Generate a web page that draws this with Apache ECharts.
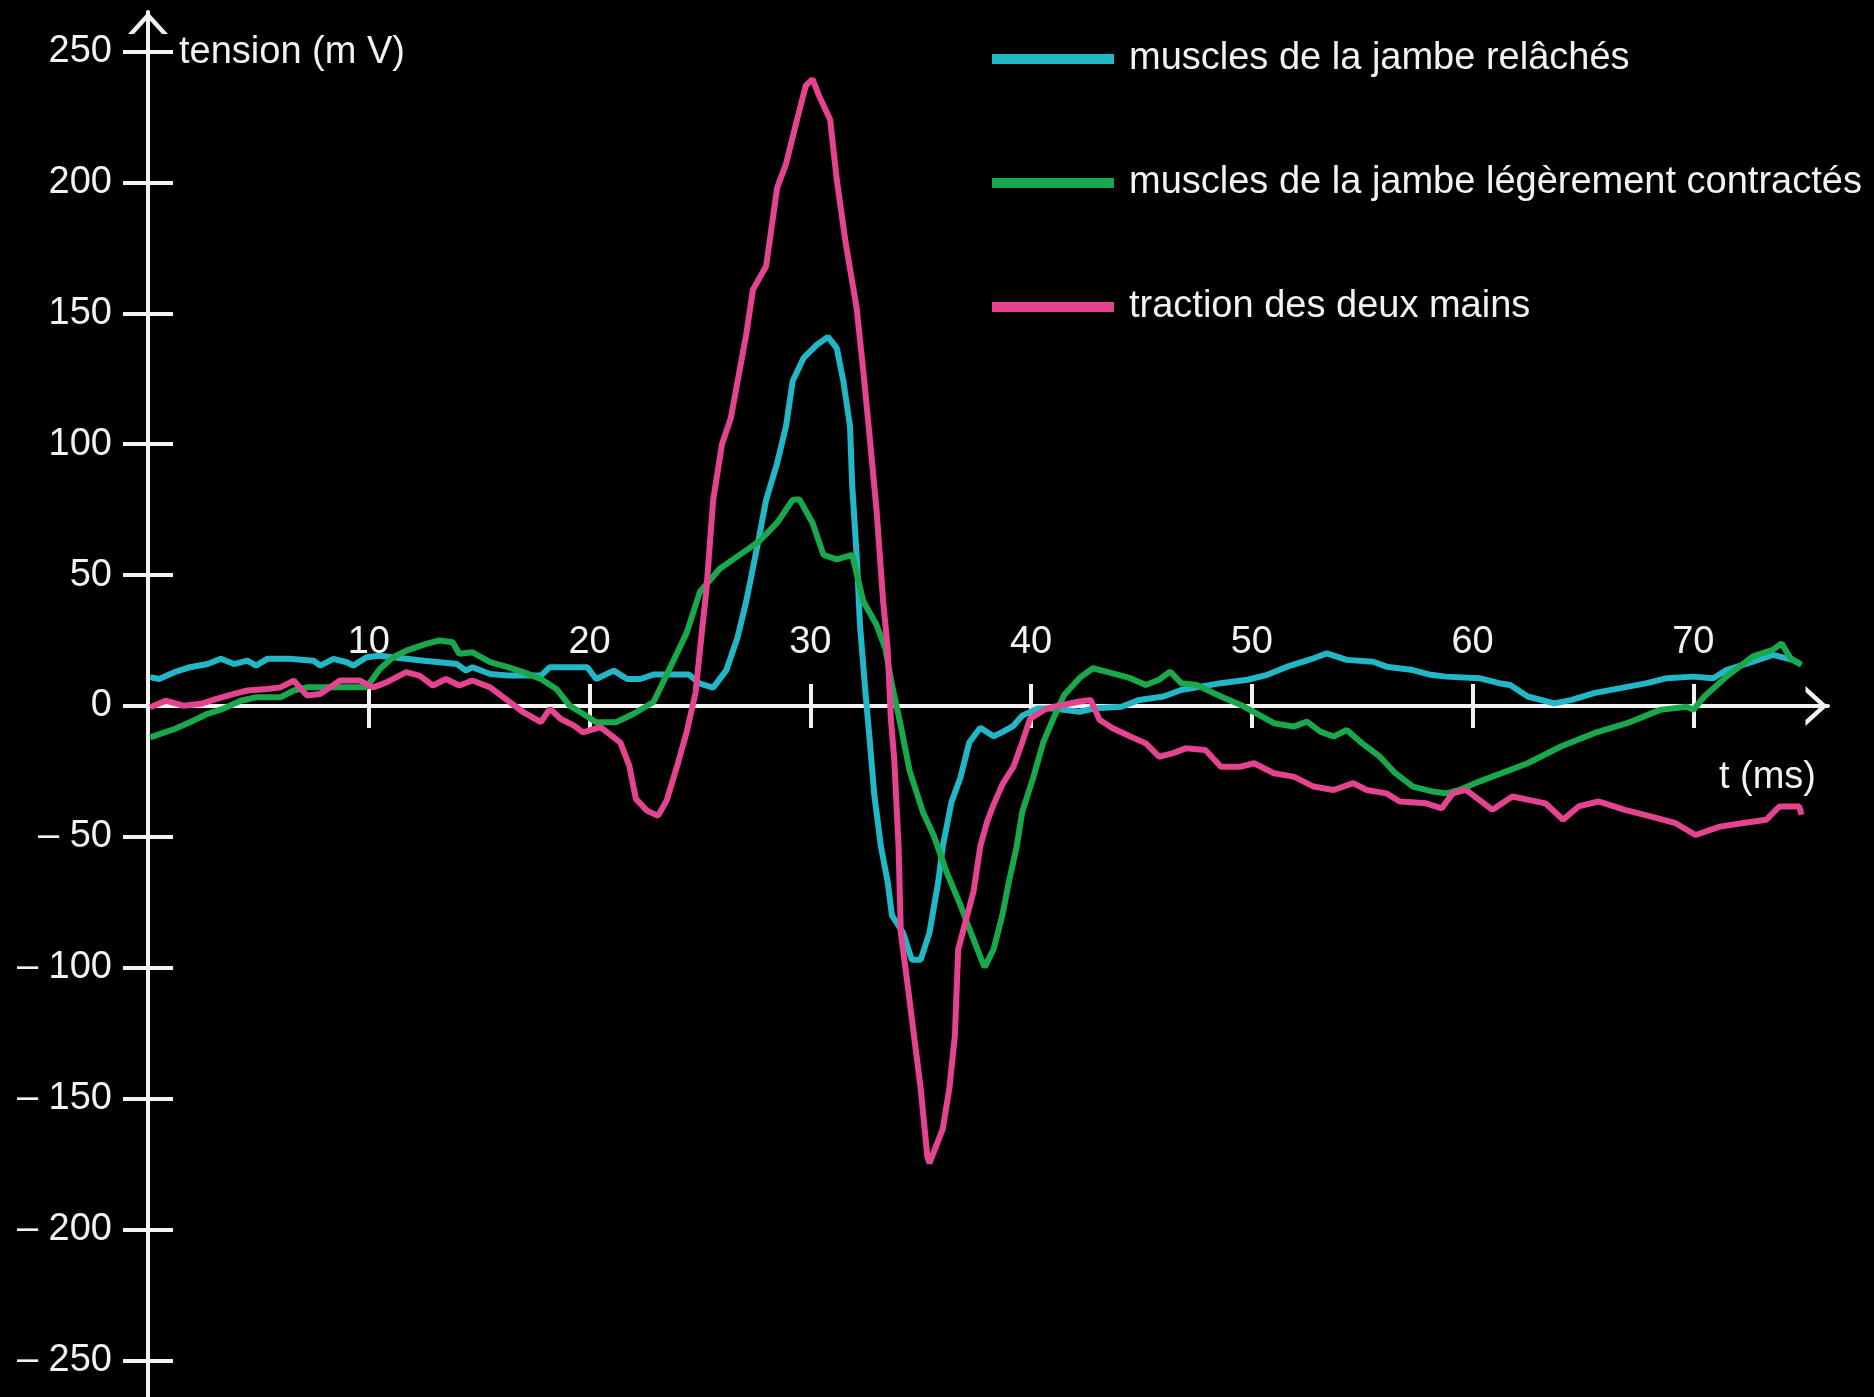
<!DOCTYPE html>
<html>
<head>
<meta charset="utf-8">
<script src="https://cdn.jsdelivr.net/npm/echarts@6/dist/echarts.min.js"></script>
<style>
	html, body { margin: 0; padding: 0; background: #000; }
	#chart { width: 1874px; height: 1397px; }
</style>
</head>
<body>
<div id="chart"></div>
<script>
// noms des courbes (légende)
var seriesNames = [
	"muscles de la jambe relâchés",
	"muscles de la jambe légèrement contractés",
	"traction des deux mains"
];
var seriesColors = ["#22b7c7", "#19a84b", "#e3438f"];

// graduations
var xTicks = [10, 20, 30, 40, 50, 60, 70];
var yTicks = [-250, -200, -150, -100, -50, 0, 50, 100, 150, 200, 250];

// [t (ms), tension (mV)]
var relaxed = [
	[0.1, 11], [0.5, 10.3], [1.2, 12.9], [1.9, 14.8], [2.7, 16], [3.3, 18], [3.9, 16], [4.5, 17.3],
	[4.9, 15.4], [5.4, 18], [6.4, 18], [7.5, 17.3], [7.8, 15.4], [8.4, 18], [9.0, 16.7], [9.3, 15.4],
	[9.9, 18.6], [10.5, 19.2], [11.7, 18], [12.5, 17.3], [13.2, 16.7], [14.0, 16], [14.4, 13.5],
	[14.7, 14.8], [15.5, 12.2], [16.3, 11.6], [17.8, 11.6], [18.2, 14.8], [19.9, 14.8], [20.3, 10.3],
	[21.1, 13.5], [21.7, 10.3], [22.3, 10.3], [22.9, 12], [24.5, 12], [25.0, 8.5], [25.6, 7],
	[26.2, 13.7], [26.7, 26], [27.1, 40], [27.6, 61], [28.0, 78.7], [28.5, 92.8], [28.9, 106.8],
	[29.2, 124], [29.7, 133], [30.3, 138], [30.8, 141], [31.2, 136.7], [31.5, 124], [31.8, 106.8],
	[31.9, 84], [32.1, 57.7], [32.25, 31], [32.5, 5], [32.7, -14], [32.9, -34], [33.2, -53.7],
	[33.5, -67], [33.7, -80], [34.2, -86.6], [34.6, -97], [35.0, -97], [35.4, -86.6], [35.8, -67],
	[36.0, -53.7], [36.4, -36.6], [36.8, -27.4], [37.2, -14], [37.7, -8.3], [38.3, -11.6], [38.7, -10],
	[39.2, -7.6], [39.6, -3.7], [40.3, -1], [41.0, -1], [42.2, -2.2], [42.9, -0.9], [44.1, -0.3],
	[44.9, 2.3], [46.0, 3.6], [46.8, 6.1], [48.6, 8.7], [49.8, 10], [50.7, 11.9], [51.6, 15],
	[52.8, 18.2], [53.4, 20.1], [54.3, 17.6], [55.5, 16.9], [56.1, 15], [57.3, 13.7], [58.1, 11.9],
	[58.8, 11.2], [60.3, 10.6], [61.2, 8.7], [61.7, 8], [62.5, 3.6], [63.7, 1], [64.5, 2.3],
	[65.5, 4.9], [66.7, 6.8], [67.9, 8.7], [68.8, 10.6], [70.0, 11.2], [70.9, 10.6], [71.5, 13.7],
	[72.7, 16.9], [73.6, 19.5], [74.5, 17.6], [74.8, 16.3]
];
var contracted = [
	[0.1, -12], [1.2, -8.8], [1.9, -6.2], [2.7, -3], [3.4, -1.1], [4.2, 2], [4.9, 3.3], [6.0, 3.3],
	[6.6, 5.9], [7.2, 7.1], [9.9, 7.1], [10.5, 14.1], [11.1, 18.6], [11.7, 21.1], [12.6, 23.7],
	[13.2, 25], [13.8, 24.3], [14.1, 19.9], [14.7, 20.5], [15.5, 16.7], [16.3, 14.8], [17.0, 12.9],
	[17.8, 10.3], [18.5, 6.5], [19.1, 0.1], [19.7, -3], [20.3, -6.2], [21.2, -6.2], [22.0, -3],
	[22.9, 1.5], [23.6, 13.7], [24.4, 27.9], [25.0, 43.6], [25.9, 52.4], [26.8, 57.7], [27.7, 63],
	[28.5, 70], [29.2, 78.7], [29.5, 79], [30.1, 70], [30.6, 57.7], [31.2, 56], [31.9, 57.7],
	[32.4, 40], [33.0, 31], [33.4, 22], [33.7, 8], [34.1, -7.6], [34.5, -24.8], [35.1, -40.5],
	[35.6, -49.7], [36.2, -64], [36.8, -76], [37.2, -85], [37.7, -95.8], [37.9, -99.8], [38.3, -93],
	[38.7, -80], [39.0, -67], [39.35, -53.7], [39.6, -40.5], [40.1, -27.4], [40.55, -14], [41.0, -5],
	[41.5, 4.2], [42.2, 10.7], [42.8, 14.4], [43.4, 13.1], [44.5, 10.6], [45.2, 8], [45.8, 10],
	[46.3, 13.1], [46.8, 8.7], [47.5, 8], [48.6, 3.6], [49.5, 0.4], [50.2, -2.8], [51.0, -6.6],
	[51.9, -7.9], [52.5, -6], [53.1, -9.8], [53.7, -11.7], [54.3, -9.2], [55.0, -14.3], [55.8, -19.4],
	[56.5, -25.7], [57.3, -30.8], [58.2, -32.7], [58.8, -33.4], [59.4, -32.1], [60.3, -28.9],
	[60.9, -27], [62.5, -21.9], [64.0, -15.5], [65.5, -10.4], [67.0, -6.6], [68.5, -1.5], [69.7, -0.3],
	[70.0, -1.5], [70.5, 3.6], [71.5, 11.2], [72.7, 18.9], [73.6, 21.4], [74.0, 23.9], [74.4, 18.2],
	[74.9, 15.7]
];
var traction = [
	[0.1, -0.5], [0.8, 2], [1.6, 0.1], [2.4, 0.8], [3.1, 2.7], [3.9, 4.6], [4.5, 5.9], [5.4, 6.5],
	[6.0, 7.1], [6.6, 9.7], [7.2, 4], [7.8, 4.6], [8.7, 9.7], [9.6, 9.7], [10.2, 7.1], [10.8, 9],
	[11.7, 12.9], [12.3, 11.6], [12.9, 7.8], [13.5, 10.3], [14.1, 7.8], [14.7, 9.7], [15.5, 7.1],
	[16.3, 2], [17.0, -2.4], [17.8, -6.2], [18.2, -1.1], [18.7, -5], [19.3, -7.5], [19.7, -10.1],
	[20.5, -8.1], [21.4, -14], [21.8, -22.8], [22.1, -35.5], [22.6, -40], [23.1, -42], [23.5, -36],
	[24.0, -22], [24.4, -10], [24.8, 5], [25.3, 45], [25.6, 78.7], [26.0, 100], [26.4, 110],
	[27.1, 142], [27.4, 159], [28.0, 168], [28.5, 198], [28.9, 207], [29.4, 224], [29.8, 237],
	[30.1, 239.5], [30.4, 233], [30.9, 224], [31.2, 201], [31.6, 177], [32.1, 152], [32.4, 128],
	[32.7, 102], [33.0, 75], [33.3, 40], [33.5, 22.5], [33.65, -5], [33.8, -20], [34.0, -53.7],
	[34.1, -86.6], [34.4, -106], [34.7, -126], [35.0, -146], [35.3, -172], [35.4, -174.7],
	[36.0, -161.6], [36.3, -146], [36.55, -126], [36.7, -93], [36.9, -86.6], [37.4, -70.7],
	[37.7, -53.7], [38.0, -44.5], [38.3, -37.8], [38.7, -30], [39.2, -23.3], [39.6, -14], [39.95, -5],
	[40.7, -1], [41.2, 0], [42.2, 1.7], [42.7, 2.3], [43.1, -5.3], [43.7, -8.5], [44.5, -11.7],
	[45.2, -14.3], [45.8, -19.4], [46.4, -18.1], [47.0, -16.2], [47.9, -16.8], [48.6, -23.2],
	[49.5, -23.2], [50.1, -21.9], [51.0, -25.7], [51.9, -27], [52.8, -30.8], [53.7, -32.1],
	[54.6, -29.5], [55.2, -32.1], [56.1, -33.4], [56.7, -36.5], [57.9, -37.2], [58.6, -39.1],
	[59.1, -33.4], [59.7, -32.1], [60.3, -35.9], [60.9, -39.7], [61.8, -34.6], [63.3, -37.2],
	[64.1, -43.5], [64.8, -38.4], [65.7, -36.5], [66.9, -39.7], [68.1, -42.3], [69.2, -44.8],
	[70.1, -49.3], [71.2, -46.1], [72.2, -44.8], [73.3, -43.5], [73.9, -38.4], [74.8, -38.4],
	[74.9, -41.6]
];

var FONT = "'Liberation Sans', Arial, sans-serif";
var WHITE = "#f2f2f2";
// flèche ouverte au bout des axes
var CHEVRON = "path://M0,22L20,0L40,22L34,22L20,6.5L6,22Z";

// axe des temps : même étendue pour la grille des courbes et la grille de l'axe
var T_MIN = 0, T_MAX = 76.1;
var V_MIN = -264, V_MAX = 265.1;
var PLOT_TOP = 12, PLOT_H = 1397 - PLOT_TOP;
var ZERO_Y = PLOT_TOP + PLOT_H * V_MAX / (V_MAX - V_MIN);

function yLabel(v) {
	return v < 0 ? "\u2013 " + Math.abs(v) : String(v);
}

var myChart = echarts.init(document.getElementById("chart"), null, { renderer: "canvas" });

var tickStyle = { color: WHITE, width: 4 };

var option = {
	backgroundColor: "#000",
	animation: false,
	textStyle: { fontFamily: FONT },
	grid: [
		{ left: 148, right: 46, top: PLOT_TOP, height: PLOT_H, outerBoundsMode: "none", containLabel: false },
		// grille plate placée sur la ligne du zéro, porte l'axe t
		{ left: 148, right: 46, top: ZERO_Y, height: 1, outerBoundsMode: "none", containLabel: false }
	],
	legend: {
		orient: "vertical",
		left: 987,
		top: 32,
		itemWidth: 122,
		itemHeight: 10,
		itemGap: 80,
		icon: "rect",
		data: seriesNames,
		textStyle: {
			color: WHITE,
			fontSize: 38,
			fontFamily: FONT,
			lineHeight: 44,
			padding: [0, 0, 0, 10]
		}
	},
	xAxis: [
		{
			gridIndex: 0,
			type: "value",
			min: T_MIN,
			max: T_MAX,
			show: false
		},
		{
			gridIndex: 1,
			type: "value",
			position: "top",
			min: T_MIN,
			max: T_MAX,
			axisLine: {
				onZero: false,
				lineStyle: { color: WHITE, width: 4 },
				symbol: ["none", CHEVRON],
				symbolSize: [40, 23],
				symbolOffset: [0, -11.5]
			},
			axisTick: { customValues: xTicks, length: 22, lineStyle: tickStyle },
			axisLabel: { customValues: xTicks, color: WHITE, fontSize: 38, margin: 44 },
			splitLine: { show: false }
		},
		{
			gridIndex: 1,
			type: "value",
			position: "top",
			min: T_MIN,
			max: T_MAX,
			axisLine: { show: false, onZero: false },
			axisTick: { customValues: xTicks, inside: true, length: 22, lineStyle: tickStyle },
			axisLabel: { show: false },
			splitLine: { show: false }
		}
	],
	yAxis: [
		{
			gridIndex: 0,
			type: "value",
			position: "left",
			min: V_MIN,
			max: V_MAX,
			axisLine: {
				onZero: false,
				lineStyle: { color: WHITE, width: 4 },
				symbol: ["none", CHEVRON],
				symbolSize: [42, 22],
				symbolOffset: [0, -11]
			},
			axisTick: { customValues: yTicks, length: 25, lineStyle: tickStyle },
			axisLabel: { customValues: yTicks, color: WHITE, fontSize: 38, margin: 36, formatter: yLabel },
			splitLine: { show: false }
		},
		{
			gridIndex: 0,
			type: "value",
			position: "left",
			min: V_MIN,
			max: V_MAX,
			axisLine: { show: false, onZero: false },
			axisTick: { customValues: yTicks, inside: true, length: 25, lineStyle: tickStyle },
			axisLabel: { show: false },
			splitLine: { show: false }
		},
		{
			gridIndex: 1,
			type: "value",
			min: 0,
			max: 1,
			show: false
		}
	],
	graphic: [
		{
			type: "text",
			x: 179,
			y: 53,
			style: { text: "tension (m V)", font: "38px " + FONT, fill: WHITE, textAlign: "left", textVerticalAlign: "middle" }
		},
		{
			type: "text",
			x: 1816,
			y: 778,
			style: { text: "t (ms)", font: "38px " + FONT, fill: WHITE, textAlign: "right", textVerticalAlign: "middle" }
		}
	],
	series: [relaxed, contracted, traction].map(function (d, i) {
		return {
			name: seriesNames[i],
			type: "line",
			xAxisIndex: 0,
			yAxisIndex: 0,
			data: d,
			showSymbol: false,
			symbol: "none",
			color: seriesColors[i],
			lineStyle: { width: 6, color: seriesColors[i] },
			z: 3 + i
		};
	})
};
myChart.setOption(option);
window.addEventListener("resize", myChart.resize);
</script>
</body>
</html>
